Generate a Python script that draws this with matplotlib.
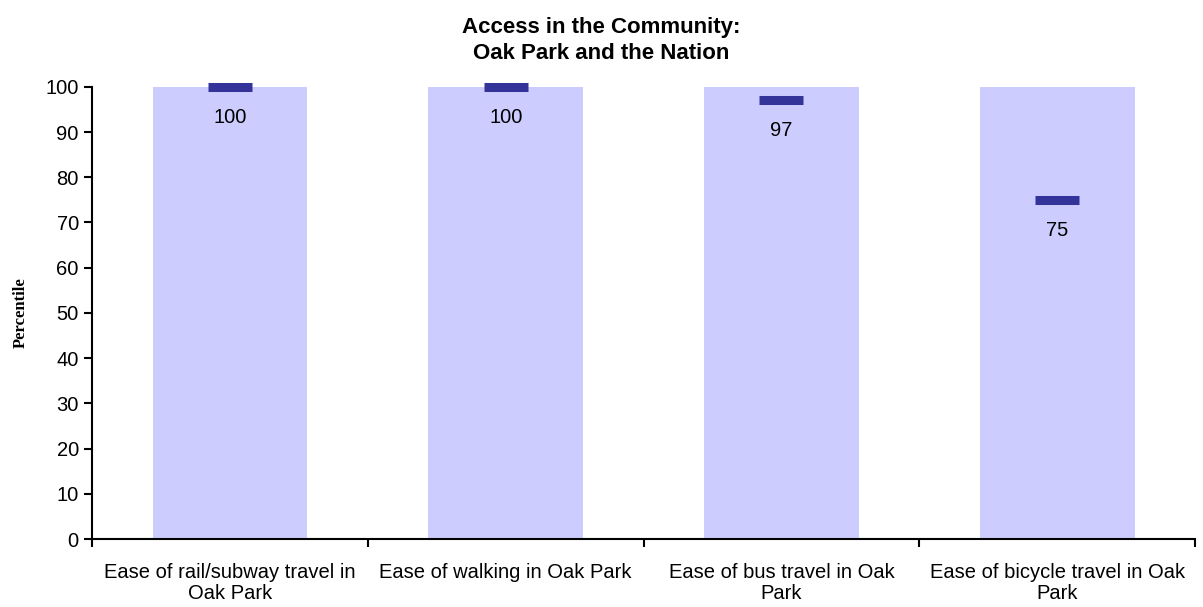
import matplotlib.pyplot as plt
import numpy as np

""" Data """
categories = [
    "Ease of rail/subway travel in\nOak Park",
    "Ease of walking in Oak Park",
    "Ease of bus travel in Oak\nPark",
    "Ease of bicycle travel in Oak\nPark",
]
scale_max = [100, 100, 100, 100]
percentile = [100, 100, 97, 75]

""" Plot """
plt.rcParams["font.family"] = ["Liberation Sans", "DejaVu Sans"]

fig = plt.figure(figsize=(12.03, 6.07), dpi=100)
ax = fig.add_axes([0.0765, 0.112, 0.917, 0.745])

x = np.arange(len(categories))
ax.bar(x, scale_max, width=0.56, color="#CCCCFF", zorder=1)
ax.plot(x, percentile, linestyle="none", marker="_", ms=31, mew=6.5,
        color="#333399", zorder=3, clip_on=False)

for xi, p in zip(x, percentile):
    ax.annotate("{:d}".format(p), (xi, p), xytext=(0, -22),
                textcoords="offset points", ha="center", va="center",
                fontsize=14.5, zorder=4)

ax.set_xlim(-0.5, len(categories) - 0.5)
ax.set_ylim(0, 100)
ax.set_yticks(np.arange(0, 101, 10))
ax.tick_params(axis="y", labelsize=14.5, direction="out", length=6, width=1.5)

# category labels sit between boundary ticks
ax.set_xticks(x)
ax.set_xticklabels(categories, fontsize=14.5, linespacing=1.15)
ax.tick_params(axis="x", which="major", length=0, pad=17)
ax.set_xticks(np.arange(-0.5, len(categories)), minor=True)
ax.tick_params(axis="x", which="minor", direction="out", length=6, width=1.5)

for side in ["top", "right"]:
    ax.spines[side].set_visible(False)
for side in ["left", "bottom"]:
    ax.spines[side].set_linewidth(1.5)

ax.set_ylabel("Percentile", fontsize=12, fontweight="bold",
              family="Liberation Serif", labelpad=12)
fig.text(0.5, 0.972, "Access in the Community:\nOak Park and the Nation",
         ha="center", va="top", fontsize=16, fontweight="bold",
         linespacing=1.3)

plt.savefig("out.png", dpi=100)
